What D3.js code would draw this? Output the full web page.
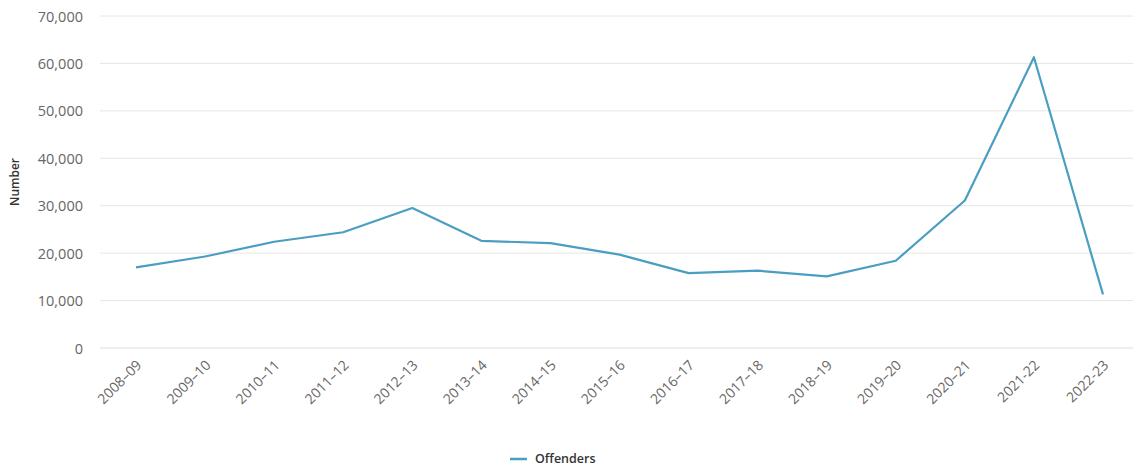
<!DOCTYPE html>
<html>
<head>
<meta charset="utf-8">
<script src="https://cdn.jsdelivr.net/npm/d3@7"></script>
<style>
  html, body { margin: 0; padding: 0; background: #fff; }
  svg { display: block; }
  svg text { font-family: "Open Sans", "Noto Sans", sans-serif; }
</style>
</head>
<body>
<svg id="chart" width="1133" height="470"></svg>
<script>
const categories = ["2008–09","2009–10","2010–11","2011–12","2012–13","2013–14","2014–15","2015–16","2016–17","2017–18","2018–19","2019–20","2020–21","2021-22","2022-23"];
const offenders = [17000, 19300, 22400, 24400, 29500, 22600, 22100, 19700, 15800, 16300, 15100, 18400, 31100, 61300, 11300];
const yTicks = [0, 10000, 20000, 30000, 40000, 50000, 60000, 70000];
const seriesName = "Offenders";

const svg = d3.select("#chart");
const plotLeft = 100, plotRight = 1133, plotTop = 16, plotBottom = 348;

const x = d3.scalePoint().domain(categories).range([136, 1103]);
const y = d3.scaleLinear().domain([0, 70000]).range([plotBottom, plotTop]);

// gridlines
svg.append("g").selectAll("line")
  .data(yTicks.filter(d => d !== 0))
  .join("line")
  .attr("x1", plotLeft).attr("x2", plotRight)
  .attr("y1", d => y(d)).attr("y2", d => y(d))
  .attr("stroke", "#e6e6e6").attr("stroke-width", 1);

// baseline
svg.append("line")
  .attr("x1", plotLeft).attr("x2", plotRight)
  .attr("y1", y(0)).attr("y2", y(0))
  .attr("stroke", "#d8dde8").attr("stroke-width", 1);

// y axis labels
const yAxis = d3.axisLeft(y).tickValues(yTicks).tickSize(0).tickPadding(0)
  .tickFormat(d3.format(","));
const gy = svg.append("g").attr("transform", `translate(83,0)`).call(yAxis);
gy.attr("font-family", null).attr("font-size", null);
gy.select(".domain").remove();
gy.selectAll("text").attr("fill", "#666").style("font-size", "14.5px")
  .attr("dy", "0.35em");

// y title
svg.append("text")
  .attr("transform", `translate(19,${(plotTop + plotBottom) / 2}) rotate(-90)`)
  .attr("text-anchor", "middle")
  .attr("fill", "#333").style("font-size", "12px").style("font-weight", "600")
  .text("Number");

// x axis labels
const xAxis = d3.axisBottom(x).tickSize(0).tickPadding(0);
const gx = svg.append("g").attr("transform", `translate(0,${plotBottom})`).call(xAxis);
gx.attr("font-family", null).attr("font-size", null);
gx.select(".domain").remove();
gx.selectAll("text")
  .attr("fill", "#666").style("font-size", "14px")
  .attr("text-anchor", "end")
  .attr("dy", null).attr("y", null)
  .attr("transform", "translate(6,18) rotate(-45)");

// line
const line = d3.line().x((d, i) => x(categories[i])).y(d => y(d));
svg.append("path")
  .datum(offenders)
  .attr("d", line)
  .attr("fill", "none")
  .attr("stroke", "#4a9ec2")
  .attr("stroke-width", 2.2)
  .attr("stroke-linejoin", "round");

// legend
const lg = svg.append("g").attr("transform", "translate(510,459)");
lg.append("line").attr("x1", 0).attr("x2", 17).attr("y1", 0).attr("y2", 0)
  .attr("stroke", "#4a9ec2").attr("stroke-width", 2.5);
lg.append("text").attr("x", 25).attr("y", 0).attr("dy", "0.35em")
  .attr("fill", "#333").style("font-size", "12.5px").style("font-weight", "600")
  .text(seriesName);
</script>
</body>
</html>
